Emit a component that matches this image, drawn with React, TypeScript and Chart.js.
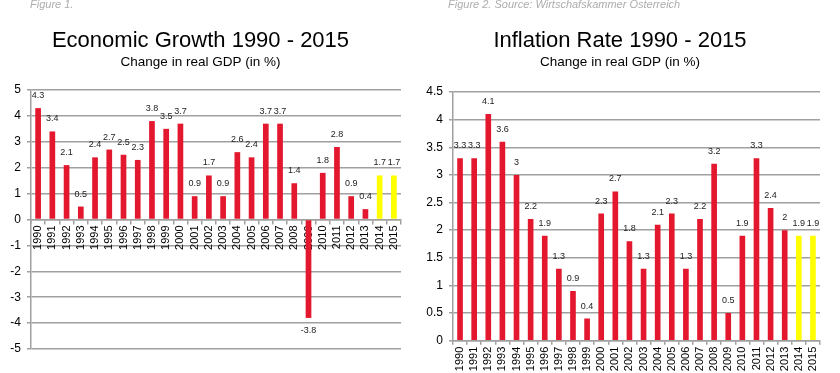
import React, { useEffect, useRef } from 'react';
import { Chart, registerables } from 'chart.js';

Chart.register(...registerables);

// ---- data ----
const years = [
  '1990', '1991', '1992', '1993', '1994', '1995', '1996', '1997', '1998', '1999',
  '2000', '2001', '2002', '2003', '2004', '2005', '2006', '2007', '2008', '2009',
  '2010', '2011', '2012', '2013', '2014', '2015',
];
const gdpGrowth = [
  4.3, 3.4, 2.1, 0.5, 2.4, 2.7, 2.5, 2.3, 3.8, 3.5,
  3.7, 0.9, 1.7, 0.9, 2.6, 2.4, 3.7, 3.7, 1.4, -3.8,
  1.8, 2.8, 0.9, 0.4, 1.7, 1.7,
];
const inflationRate = [
  3.3, 3.3, 4.1, 3.6, 3, 2.2, 1.9, 1.3, 0.9, 0.4,
  2.3, 2.7, 1.8, 1.3, 2.1, 2.3, 1.3, 2.2, 3.2, 0.5,
  1.9, 3.3, 2.4, 2, 1.9, 1.9,
];
const forecastYears = ['2014', '2015'];
const gdpAxis = { min: -5, max: 5, step: 1 };
const inflationAxis = { min: 0, max: 4.5, step: 0.5 };

const FONT = '"Liberation Sans", Arial, Helvetica, sans-serif';
const RED = '#E3172D';
const YELLOW = '#FFFF00';
const GRID = '#a0a0a0';

const valueLabels = {
  id: 'valueLabels',
  afterDatasetsDraw(chart: any) {
    const ctx = chart.ctx;
    ctx.save();
    ctx.font = `9px ${FONT}`;
    ctx.fillStyle = '#222';
    ctx.textAlign = 'center';
    ctx.textBaseline = 'middle';
    chart.data.datasets.forEach((ds: any, i: number) => {
      const meta = chart.getDatasetMeta(i);
      meta.data.forEach((el: any, j: number) => {
        const v = ds.data[j];
        const y = v >= 0 ? el.y - 12.5 : el.y + 12.5;
        ctx.fillText(String(v), el.x, y);
      });
    });
    ctx.restore();
  },
};

type Props = {
  title: string;
  subtitle: string;
  values: number[];
  axis: { min: number; max: number; step: number };
  xAtZero: boolean;
  yWidth: number;
  padRight: number;
  subPadBottom: number;
  padBottom: number;
};

function BarChart(p: Props) {
  const ref = useRef<HTMLCanvasElement | null>(null);
  useEffect(() => {
    if (!ref.current) return;
    const colors = years.map((y) => (forecastYears.includes(y) ? YELLOW : RED));
    const xScale: any = {
      type: 'category',
      position: p.xAtZero ? { y: 0 } : 'bottom',
      z: 1,
      ticks: {
        minRotation: 90,
        maxRotation: 90,
        autoSkip: false,
        color: '#000',
        padding: 2,
        font: { family: FONT, size: 11 },
      },
      grid: { drawOnChartArea: false, drawTicks: true, tickLength: 4, color: GRID, lineWidth: 1.5 },
      border: { display: true, color: GRID, width: 1.5 },
    };
    if (!p.xAtZero) {
      xScale.afterFit = (s: any) => {
        s.height = p.padBottom;
      };
    }
    const chart = new Chart(ref.current, {
      type: 'bar',
      data: {
        labels: years,
        datasets: [
          {
            data: p.values,
            backgroundColor: colors,
            barPercentage: 0.4,
            categoryPercentage: 1,
          },
        ],
      },
      options: {
        responsive: false,
        animation: false,
        layout: {
          padding: { left: 0, right: p.padRight, top: 0, bottom: p.xAtZero ? p.padBottom : 0 },
        },
        plugins: {
          legend: { display: false },
          tooltip: { enabled: false },
          title: {
            display: true,
            text: p.title,
            color: '#000',
            font: { family: FONT, size: 22, weight: 'normal' },
            padding: { top: 28, bottom: 0 },
          },
          subtitle: {
            display: true,
            text: p.subtitle,
            color: '#000',
            font: { family: FONT, size: 13.5, weight: 'normal' },
            padding: { top: 0, bottom: p.subPadBottom },
          },
        },
        scales: {
          x: xScale,
          y: {
            min: p.axis.min,
            max: p.axis.max,
            afterFit: (s: any) => {
              s.width = p.yWidth;
            },
            ticks: {
              stepSize: p.axis.step,
              color: '#000',
              padding: 6,
              font: { family: FONT, size: 12 },
              callback: (v: any) => String(Math.round(Number(v) * 10) / 10),
            },
            grid: { color: GRID, lineWidth: 1.5, tickLength: 4 },
            border: { display: true, color: GRID, width: 1.5 },
          },
        },
      } as any,
      plugins: [valueLabels],
    });
    return () => chart.destroy();
  }, []);
  return <canvas ref={ref} width={420} height={373} style={{ display: 'block' }} />;
}

const figStyle: React.CSSProperties = {
  position: 'absolute',
  top: -2,
  fontFamily: FONT,
  fontStyle: 'italic',
  fontSize: 11,
  lineHeight: '13px',
  color: '#adadad',
  whiteSpace: 'nowrap',
};

export default function App() {
  useEffect(() => {
    document.body.style.margin = '0';
  }, []);
  return (
    <div style={{ position: 'absolute', left: 0, top: 0, width: 840, height: 373, background: '#fff', overflow: 'hidden' }}>
      <div style={{ position: 'absolute', left: 0, top: 0 }}>
        <BarChart
          title="Economic Growth 1990 - 2015"
          subtitle="Change in real GDP (in %)"
          values={gdpGrowth}
          axis={gdpAxis}
          xAtZero={true}
          yWidth={31}
          padRight={19}
          subPadBottom={19.4}
          padBottom={24}
        />
      </div>
      <div style={{ position: 'absolute', left: 420, top: 0 }}>
        <BarChart
          title="Inflation Rate 1990 - 2015"
          subtitle="Change in real GDP (in %)"
          values={inflationRate}
          axis={inflationAxis}
          xAtZero={false}
          yWidth={33}
          padRight={20}
          subPadBottom={21.4}
          padBottom={32.3}
        />
      </div>
      <div style={{ ...figStyle, left: 30 }}>Figure 1.</div>
      <div style={{ ...figStyle, left: 448 }}>Figure 2. Source: Wirtschafskammer Osterreich</div>
    </div>
  );
}
